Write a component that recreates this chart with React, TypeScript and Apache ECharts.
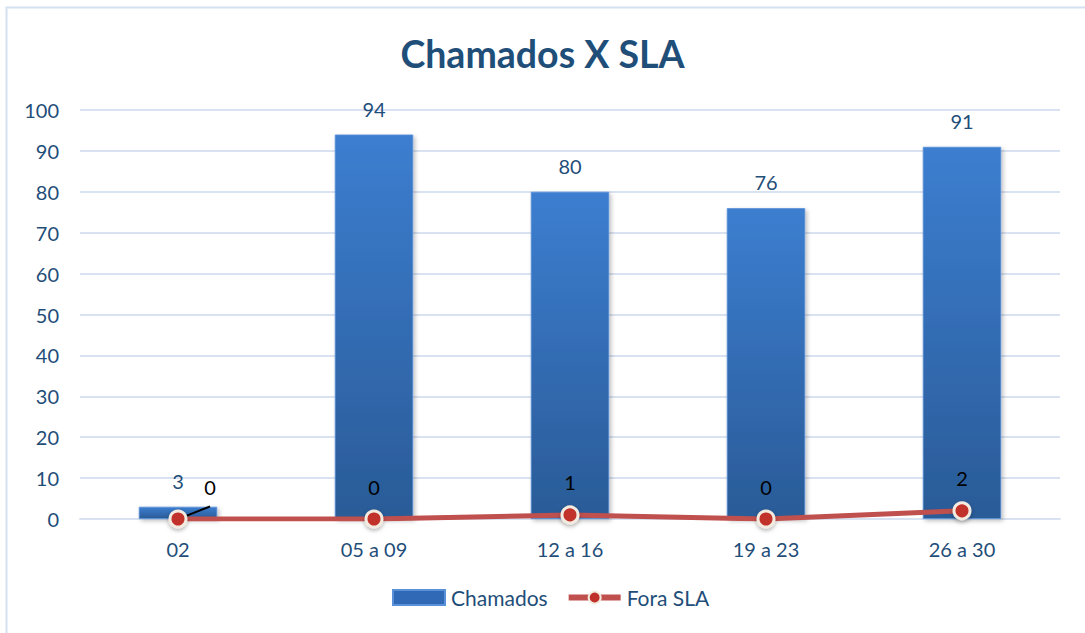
import React, { useEffect, useRef } from "react";
import * as echarts from "echarts";

const categories = ["02", "05 a 09", "12 a 16", "19 a 23", "26 a 30"];
const chamados = [3, 94, 80, 76, 91];
const foraSLA = [0, 0, 1, 0, 2];
const yTicks = { min: 0, max: 100, interval: 10 };

const FONT = "Lato, 'Open Sans', sans-serif";
const TEXT_BLUE = "#1F4E79";

export default function App() {
  const ref = useRef<HTMLDivElement>(null);
  useEffect(() => {
    if (!ref.current) return;
    const chart = echarts.init(ref.current, undefined, { renderer: "svg" });
    chart.setOption({
      animation: false,
      backgroundColor: "#ffffff",
      textStyle: { fontFamily: FONT },
      graphic: [
        {
          type: "rect",
          shape: { x: 6.5, y: 7.5, width: 1100, height: 700 },
          style: { fill: "none", stroke: "#D5E1F2", lineWidth: 2 },
          silent: true,
        },
      ],
      title: {
        text: "Chamados X SLA",
        left: "center",
        top: 29,
        textStyle: { fontFamily: FONT, fontSize: 37.5, fontWeight: "bold", color: TEXT_BLUE },
      },
      legend: {
        bottom: 20,
        left: 387,
        itemWidth: 52,
        itemHeight: 15,
        itemGap: 18,
        textStyle: { fontFamily: FONT, fontSize: 21, color: TEXT_BLUE, padding: [0, 0, 0, 1] },
        data: [
          { name: "Chamados", icon: "rect", itemStyle: { color: "#3069B5" } },
          {
            name: "Fora SLA",
            lineStyle: { width: 6, color: "#C0504D" },
            itemStyle: { color: "#C0302B", borderColor: "#F3EBDF", borderWidth: 2 },
          },
        ],
      },
      grid: { left: 80, right: 25, top: 110, bottom: 114 },
      xAxis: {
        type: "category",
        data: categories,
        axisTick: { show: false },
        axisLine: { show: true, lineStyle: { color: "#D9E2F0", width: 2 } },
        axisLabel: { fontFamily: FONT, fontSize: 20, color: TEXT_BLUE, margin: 20 },
      },
      yAxis: {
        type: "value",
        min: yTicks.min,
        max: yTicks.max,
        interval: yTicks.interval,
        axisLine: { show: false },
        axisTick: { show: false },
        axisLabel: { fontFamily: FONT, fontSize: 20, color: TEXT_BLUE, margin: 21 },
        splitLine: { lineStyle: { color: "#D9E2F0", width: 2 } },
      },
      series: [
        {
          name: "Chamados",
          type: "bar",
          data: chamados,
          barWidth: "40%",
          itemStyle: {
            color: new echarts.graphic.LinearGradient(0, 0, 0, 1, [
              { offset: 0, color: "#3C7ED0" },
              { offset: 1, color: "#2A5B97" },
            ]),
            borderColor: "#5A90D8",
            borderWidth: 0.8,
            shadowColor: "rgba(0,0,0,0.25)",
            shadowBlur: 4,
            shadowOffsetX: 2,
            shadowOffsetY: 2,
          },
          label: {
            show: true,
            position: "top",
            distance: 16,
            fontFamily: FONT,
            fontSize: 20,
            color: TEXT_BLUE,
          },
          z: 2,
        },
        {
          name: "Fora SLA",
          type: "line",
          data: foraSLA.map((v, i) =>
            i === 0
              ? {
                  value: v,
                  label: { offset: [32, 0] },
                  labelLine: { show: true, lineStyle: { color: "#000", width: 2 } },
                }
              : v
          ),
          symbol: "circle",
          symbolSize: 16,
          lineStyle: { color: "#C0504D", width: 5 },
          itemStyle: {
            color: "#C0302B",
            borderColor: "#F3EBDF",
            borderWidth: 3,
            shadowColor: "rgba(0,0,0,0.3)",
            shadowBlur: 4,
            shadowOffsetY: 2,
          },
          label: {
            show: true,
            position: "top",
            distance: 13,
            fontFamily: FONT,
            fontSize: 20,
            color: "#000",
          },
          labelLine: { show: false },
          z: 5,
        },
      ],
    });
    return () => chart.dispose();
  }, []);
  return <div ref={ref} style={{ width: 1085, height: 633, position: "absolute", left: 0, top: 0 }} />;
}
